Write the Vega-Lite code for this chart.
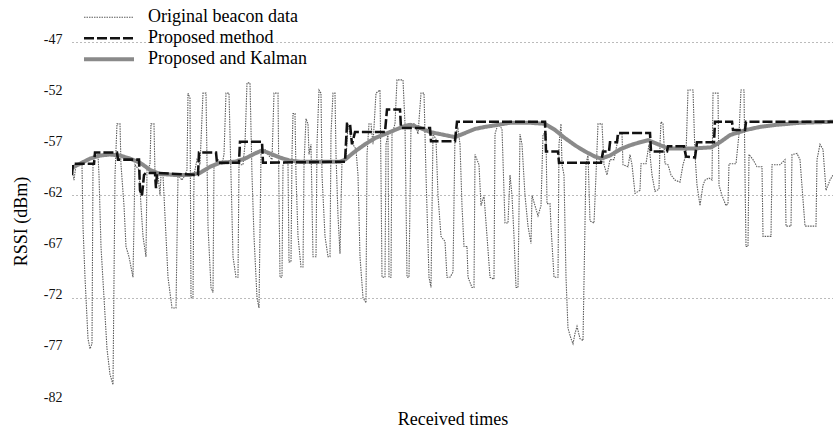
{
  "$schema": "https://vega.github.io/schema/vega-lite/v6.json",
  "width": 761,
  "height": 358,
  "autosize": {"type": "none"},
  "padding": {"left": 72, "top": 42, "right": 0, "bottom": 34},
  "background": "white",
  "config": {"view": {"stroke": null}, "font": "Liberation Serif"},
  "datasets": {
    "rows": [
      {"s":"o","t":0,"v":-59.5},{"s":"o","t":2,"v":-60.5},{"s":"o","t":4,"v":-59},{"s":"o","t":8,"v":-58.9},{"s":"o","t":10,"v":-59},{"s":"o","t":11,"v":-65},{"s":"o","t":13,"v":-70},{"s":"o","t":16,"v":-76},{"s":"o","t":18,"v":-77},{"s":"o","t":20,"v":-76.5},
      {"s":"o","t":21,"v":-59},{"s":"o","t":23,"v":-57.9},{"s":"o","t":26,"v":-58},{"s":"o","t":27,"v":-60},{"s":"o","t":29,"v":-67},{"s":"o","t":32,"v":-72},{"s":"o","t":35,"v":-77},{"s":"o","t":38,"v":-79.5},{"s":"o","t":41,"v":-80.5},{"s":"o","t":43,"v":-60},
      {"s":"o","t":45,"v":-55},{"s":"o","t":48,"v":-55},{"s":"o","t":49,"v":-59},{"s":"o","t":52,"v":-63},{"s":"o","t":54,"v":-67},{"s":"o","t":57,"v":-68},{"s":"o","t":61,"v":-70},{"s":"o","t":63,"v":-59},{"s":"o","t":67,"v":-59.5},{"s":"o","t":69,"v":-63},
      {"s":"o","t":71,"v":-66},{"s":"o","t":74,"v":-68},{"s":"o","t":75,"v":-59.5},{"s":"o","t":78,"v":-59},{"s":"o","t":79,"v":-55},{"s":"o","t":82,"v":-55},{"s":"o","t":83,"v":-60},{"s":"o","t":86,"v":-60},{"s":"o","t":88,"v":-62},{"s":"o","t":89,"v":-60},
      {"s":"o","t":91,"v":-60},{"s":"o","t":93,"v":-64},{"s":"o","t":96,"v":-70},{"s":"o","t":100,"v":-73},{"s":"o","t":104,"v":-73},{"s":"o","t":106,"v":-60},{"s":"o","t":110,"v":-60.5},{"s":"o","t":113,"v":-60},{"s":"o","t":115,"v":-59.5},{"s":"o","t":116,"v":-52},
      {"s":"o","t":118,"v":-52.5},{"s":"o","t":119,"v":-72},{"s":"o","t":121,"v":-72},{"s":"o","t":122,"v":-60},{"s":"o","t":125,"v":-58.5},{"s":"o","t":128,"v":-59},{"s":"o","t":131,"v":-52},{"s":"o","t":134,"v":-52},{"s":"o","t":136,"v":-65},{"s":"o","t":139,"v":-71},
      {"s":"o","t":141,"v":-71.5},{"s":"o","t":142,"v":-59},{"s":"o","t":146,"v":-58.5},{"s":"o","t":150,"v":-59},{"s":"o","t":152,"v":-58},{"s":"o","t":154,"v":-52},{"s":"o","t":157,"v":-52},{"s":"o","t":159,"v":-60},{"s":"o","t":161,"v":-68},{"s":"o","t":164,"v":-70},
      {"s":"o","t":166,"v":-70},{"s":"o","t":167,"v":-59},{"s":"o","t":171,"v":-59},{"s":"o","t":173,"v":-57},{"s":"o","t":175,"v":-51},{"s":"o","t":178,"v":-51},{"s":"o","t":180,"v":-60},{"s":"o","t":182,"v":-66},{"s":"o","t":185,"v":-72},{"s":"o","t":187,"v":-73},
      {"s":"o","t":189,"v":-58},{"s":"o","t":193,"v":-57.5},{"s":"o","t":196,"v":-58},{"s":"o","t":200,"v":-58.5},{"s":"o","t":202,"v":-52},{"s":"o","t":206,"v":-52},{"s":"o","t":207,"v":-62},{"s":"o","t":208,"v":-70},{"s":"o","t":210,"v":-70},{"s":"o","t":211,"v":-59},
      {"s":"o","t":214,"v":-58.5},{"s":"o","t":216,"v":-59},{"s":"o","t":217,"v":-68.5},{"s":"o","t":219,"v":-68.5},{"s":"o","t":220,"v":-58},{"s":"o","t":221,"v":-54},{"s":"o","t":223,"v":-54},{"s":"o","t":224,"v":-60},{"s":"o","t":226,"v":-66},{"s":"o","t":229,"v":-69},
      {"s":"o","t":231,"v":-69},{"s":"o","t":232,"v":-59},{"s":"o","t":234,"v":-54.5},{"s":"o","t":236,"v":-55},{"s":"o","t":237,"v":-58},{"s":"o","t":239,"v":-57},{"s":"o","t":241,"v":-68},{"s":"o","t":244,"v":-68},{"s":"o","t":245,"v":-57},{"s":"o","t":247,"v":-51.7},
      {"s":"o","t":249,"v":-52},{"s":"o","t":250,"v":-60},{"s":"o","t":253,"v":-66},{"s":"o","t":256,"v":-68},{"s":"o","t":258,"v":-68},{"s":"o","t":259,"v":-56},{"s":"o","t":261,"v":-52},{"s":"o","t":263,"v":-52},{"s":"o","t":264,"v":-58},{"s":"o","t":266,"v":-64},
      {"s":"o","t":268,"v":-67.7},{"s":"o","t":270,"v":-58.5},{"s":"o","t":274,"v":-58.5},{"s":"o","t":276,"v":-55},{"s":"o","t":278,"v":-56},{"s":"o","t":281,"v":-57},{"s":"o","t":284,"v":-57.5},{"s":"o","t":286,"v":-60},{"s":"o","t":288,"v":-68},{"s":"o","t":291,"v":-72},
      {"s":"o","t":294,"v":-72.5},{"s":"o","t":295,"v":-58},{"s":"o","t":297,"v":-55},{"s":"o","t":299,"v":-55},{"s":"o","t":301,"v":-57},{"s":"o","t":304,"v":-52},{"s":"o","t":308,"v":-51.7},{"s":"o","t":309,"v":-60},{"s":"o","t":310,"v":-70},{"s":"o","t":313,"v":-70},
      {"s":"o","t":314,"v":-57},{"s":"o","t":316,"v":-56},{"s":"o","t":317,"v":-70},{"s":"o","t":319,"v":-70},{"s":"o","t":320,"v":-56},{"s":"o","t":323,"v":-55},{"s":"o","t":325,"v":-50.7},{"s":"o","t":331,"v":-50.7},{"s":"o","t":333,"v":-55},{"s":"o","t":335,"v":-70},
      {"s":"o","t":337,"v":-70},{"s":"o","t":339,"v":-55},{"s":"o","t":343,"v":-55},{"s":"o","t":346,"v":-56},{"s":"o","t":349,"v":-52},{"s":"o","t":352,"v":-52},{"s":"o","t":354,"v":-60},{"s":"o","t":357,"v":-70},{"s":"o","t":359,"v":-71},{"s":"o","t":361,"v":-56},
      {"s":"o","t":364,"v":-56.5},{"s":"o","t":366,"v":-62},{"s":"o","t":369,"v":-66},{"s":"o","t":373,"v":-66.5},{"s":"o","t":375,"v":-70},{"s":"o","t":378,"v":-70},{"s":"o","t":381,"v":-69.5},{"s":"o","t":383,"v":-56},{"s":"o","t":386,"v":-55.5},{"s":"o","t":388,"v":-57},
      {"s":"o","t":390,"v":-63},{"s":"o","t":392,"v":-67},{"s":"o","t":395,"v":-67},{"s":"o","t":396,"v":-70},{"s":"o","t":400,"v":-71},{"s":"o","t":402,"v":-71},{"s":"o","t":403,"v":-58},{"s":"o","t":407,"v":-59},{"s":"o","t":409,"v":-63},{"s":"o","t":412,"v":-62},
      {"s":"o","t":415,"v":-66},{"s":"o","t":418,"v":-70},{"s":"o","t":422,"v":-70.2},{"s":"o","t":423,"v":-56},{"s":"o","t":426,"v":-55},{"s":"o","t":430,"v":-55.5},{"s":"o","t":433,"v":-64.7},{"s":"o","t":436,"v":-64.7},{"s":"o","t":438,"v":-60},{"s":"o","t":440,"v":-62},
      {"s":"o","t":442,"v":-66},{"s":"o","t":444,"v":-71},{"s":"o","t":446,"v":-71},{"s":"o","t":448,"v":-56},{"s":"o","t":450,"v":-57},{"s":"o","t":453,"v":-62},{"s":"o","t":456,"v":-65},{"s":"o","t":459,"v":-66.7},{"s":"o","t":460,"v":-62},{"s":"o","t":463,"v":-63},
      {"s":"o","t":466,"v":-64},{"s":"o","t":469,"v":-63},{"s":"o","t":471,"v":-56},{"s":"o","t":474,"v":-56},{"s":"o","t":475,"v":-62.8},{"s":"o","t":478,"v":-62.8},{"s":"o","t":479,"v":-65},{"s":"o","t":482,"v":-70},{"s":"o","t":486,"v":-70},{"s":"o","t":487,"v":-57},
      {"s":"o","t":489,"v":-55},{"s":"o","t":490,"v":-59},{"s":"o","t":492,"v":-60},{"s":"o","t":494,"v":-70},{"s":"o","t":496,"v":-75},{"s":"o","t":499,"v":-76},{"s":"o","t":501,"v":-76.5},{"s":"o","t":503,"v":-75.5},{"s":"o","t":505,"v":-74.8},{"s":"o","t":508,"v":-76},
      {"s":"o","t":511,"v":-76.2},{"s":"o","t":514,"v":-59},{"s":"o","t":516,"v":-58},{"s":"o","t":518,"v":-64.5},{"s":"o","t":522,"v":-64.7},{"s":"o","t":524,"v":-60},{"s":"o","t":526,"v":-55},{"s":"o","t":530,"v":-55},{"s":"o","t":532,"v":-59},{"s":"o","t":535,"v":-60},
      {"s":"o","t":538,"v":-58.5},{"s":"o","t":542,"v":-58.5},{"s":"o","t":545,"v":-57},{"s":"o","t":547,"v":-56},{"s":"o","t":550,"v":-56},{"s":"o","t":551,"v":-59},{"s":"o","t":556,"v":-59.2},{"s":"o","t":558,"v":-58},{"s":"o","t":560,"v":-59},{"s":"o","t":563,"v":-61.8},
      {"s":"o","t":568,"v":-61.5},{"s":"o","t":569,"v":-58.9},{"s":"o","t":574,"v":-58.9},{"s":"o","t":577,"v":-57},{"s":"o","t":580,"v":-60},{"s":"o","t":583,"v":-61.6},{"s":"o","t":587,"v":-61.4},{"s":"o","t":588,"v":-57},{"s":"o","t":589,"v":-54.8},{"s":"o","t":591,"v":-55},
      {"s":"o","t":593,"v":-58.9},{"s":"o","t":596,"v":-59},{"s":"o","t":599,"v":-60},{"s":"o","t":603,"v":-60.5},{"s":"o","t":608,"v":-60.7},{"s":"o","t":611,"v":-59},{"s":"o","t":614,"v":-58},{"s":"o","t":616,"v":-51.7},{"s":"o","t":621,"v":-51.7},{"s":"o","t":623,"v":-58},
      {"s":"o","t":625,"v":-61},{"s":"o","t":628,"v":-63},{"s":"o","t":631,"v":-61},{"s":"o","t":633,"v":-60.5},{"s":"o","t":637,"v":-60.3},{"s":"o","t":640,"v":-60.5},{"s":"o","t":641,"v":-52},{"s":"o","t":646,"v":-52},{"s":"o","t":647,"v":-61},{"s":"o","t":650,"v":-62},
      {"s":"o","t":654,"v":-63},{"s":"o","t":656,"v":-62.8},{"s":"o","t":657,"v":-58.9},{"s":"o","t":664,"v":-58.9},{"s":"o","t":667,"v":-56},{"s":"o","t":669,"v":-51.7},{"s":"o","t":672,"v":-51.7},{"s":"o","t":673,"v":-60},{"s":"o","t":674,"v":-67},{"s":"o","t":676,"v":-67},
      {"s":"o","t":677,"v":-58},{"s":"o","t":681,"v":-58.5},{"s":"o","t":685,"v":-59.2},{"s":"o","t":690,"v":-59.2},{"s":"o","t":691,"v":-66},{"s":"o","t":699,"v":-66},{"s":"o","t":700,"v":-59},{"s":"o","t":704,"v":-59},{"s":"o","t":708,"v":-59},{"s":"o","t":713,"v":-58.5},
      {"s":"o","t":714,"v":-65},{"s":"o","t":719,"v":-65},{"s":"o","t":720,"v":-58},{"s":"o","t":725,"v":-57.9},{"s":"o","t":728,"v":-58.5},{"s":"o","t":733,"v":-65},{"s":"o","t":738,"v":-65},{"s":"o","t":744,"v":-65},{"s":"o","t":745,"v":-58.5},{"s":"o","t":748,"v":-57},
      {"s":"o","t":751,"v":-57.5},{"s":"o","t":754,"v":-61.5},{"s":"o","t":758,"v":-60.5},{"s":"o","t":761,"v":-60},

      {"s":"k","t":0,"v":-59.3},{"s":"k","t":8,"v":-58.9},{"s":"k","t":18,"v":-58.4},{"s":"k","t":28,"v":-58.1},{"s":"k","t":38,"v":-58.0},{"s":"k","t":48,"v":-58.1},{"s":"k","t":58,"v":-58.4},{"s":"k","t":68,"v":-58.8},{"s":"k","t":78,"v":-59.5},{"s":"k","t":88,"v":-59.9},
      {"s":"k","t":103,"v":-60.0},{"s":"k","t":118,"v":-60.0},{"s":"k","t":128,"v":-59.8},{"s":"k","t":138,"v":-59.2},{"s":"k","t":148,"v":-58.8},{"s":"k","t":163,"v":-58.7},{"s":"k","t":173,"v":-58.4},{"s":"k","t":183,"v":-57.9},{"s":"k","t":190,"v":-57.6},{"s":"k","t":198,"v":-57.9},
      {"s":"k","t":208,"v":-58.3},{"s":"k","t":218,"v":-58.6},{"s":"k","t":228,"v":-58.7},{"s":"k","t":248,"v":-58.7},{"s":"k","t":268,"v":-58.7},{"s":"k","t":273,"v":-58.5},{"s":"k","t":283,"v":-57.7},{"s":"k","t":293,"v":-57.0},{"s":"k","t":303,"v":-56.4},{"s":"k","t":313,"v":-56.0},
      {"s":"k","t":323,"v":-55.6},{"s":"k","t":333,"v":-55.2},{"s":"k","t":338,"v":-55.1},{"s":"k","t":348,"v":-55.4},{"s":"k","t":358,"v":-55.8},{"s":"k","t":368,"v":-56.0},{"s":"k","t":383,"v":-56.3},{"s":"k","t":393,"v":-55.9},{"s":"k","t":403,"v":-55.5},{"s":"k","t":413,"v":-55.3},
      {"s":"k","t":426,"v":-55.1},{"s":"k","t":438,"v":-54.9},{"s":"k","t":458,"v":-54.9},{"s":"k","t":473,"v":-55.0},{"s":"k","t":483,"v":-55.6},{"s":"k","t":493,"v":-56.4},{"s":"k","t":503,"v":-57.1},{"s":"k","t":513,"v":-57.7},{"s":"k","t":523,"v":-58.2},{"s":"k","t":529,"v":-58.4},
      {"s":"k","t":538,"v":-58.1},{"s":"k","t":548,"v":-57.5},{"s":"k","t":558,"v":-57.1},{"s":"k","t":568,"v":-56.8},{"s":"k","t":576,"v":-56.6},{"s":"k","t":586,"v":-57.0},{"s":"k","t":596,"v":-57.4},{"s":"k","t":608,"v":-57.4},{"s":"k","t":623,"v":-57.4},{"s":"k","t":639,"v":-57.3},
      {"s":"k","t":648,"v":-56.8},{"s":"k","t":658,"v":-56.1},{"s":"k","t":674,"v":-55.6},{"s":"k","t":688,"v":-55.3},{"s":"k","t":704,"v":-55.1},{"s":"k","t":728,"v":-54.9},{"s":"k","t":761,"v":-54.8},

      {"s":"p","t":0,"v":-60},{"s":"p","t":1,"v":-58.9},{"s":"p","t":22,"v":-58.9},{"s":"p","t":23,"v":-57.8},{"s":"p","t":45,"v":-57.8},{"s":"p","t":46,"v":-58.5},{"s":"p","t":67,"v":-58.5},{"s":"p","t":68,"v":-61.5},{"s":"p","t":70,"v":-62},{"s":"p","t":72,"v":-60},
      {"s":"p","t":74,"v":-59.8},{"s":"p","t":83,"v":-59.8},{"s":"p","t":84,"v":-61.3},{"s":"p","t":85,"v":-59.8},{"s":"p","t":126,"v":-60},{"s":"p","t":127,"v":-57.8},{"s":"p","t":144,"v":-57.8},{"s":"p","t":145,"v":-58.8},{"s":"p","t":167,"v":-58.8},{"s":"p","t":168,"v":-56.75},
      {"s":"p","t":190,"v":-56.75},{"s":"p","t":191,"v":-58.8},{"s":"p","t":273,"v":-58.7},{"s":"p","t":275,"v":-55},{"s":"p","t":278,"v":-55},{"s":"p","t":280,"v":-57},{"s":"p","t":283,"v":-55.8},{"s":"p","t":313,"v":-55.8},{"s":"p","t":315,"v":-53.6},{"s":"p","t":328,"v":-53.6},
      {"s":"p","t":329,"v":-55.4},{"s":"p","t":358,"v":-55.4},{"s":"p","t":359,"v":-56.7},{"s":"p","t":383,"v":-56.7},{"s":"p","t":385,"v":-54.8},{"s":"p","t":473,"v":-54.8},{"s":"p","t":474,"v":-57.7},{"s":"p","t":486,"v":-57.7},{"s":"p","t":487,"v":-58.8},{"s":"p","t":529,"v":-58.8},
      {"s":"p","t":531,"v":-57.7},{"s":"p","t":537,"v":-57.7},{"s":"p","t":538,"v":-56.8},{"s":"p","t":545,"v":-56.8},{"s":"p","t":546,"v":-55.9},{"s":"p","t":578,"v":-55.9},{"s":"p","t":579,"v":-57.7},{"s":"p","t":595,"v":-57.7},{"s":"p","t":596,"v":-57.2},{"s":"p","t":612,"v":-57.2},
      {"s":"p","t":614,"v":-58.2},{"s":"p","t":623,"v":-58.3},{"s":"p","t":625,"v":-56.8},{"s":"p","t":642,"v":-56.8},{"s":"p","t":643,"v":-54.8},{"s":"p","t":660,"v":-54.8},{"s":"p","t":661,"v":-55.6},{"s":"p","t":673,"v":-55.6},{"s":"p","t":674,"v":-54.8},{"s":"p","t":761,"v":-54.8}
    ]
  },
  "data": {"name": "rows"},
  "mark": {"type": "line", "interpolate": "linear", "clip": true},
  "encoding": {
    "x": {
      "field": "t", "type": "quantitative",
      "scale": {"domain": [0, 761], "nice": false, "zero": false},
      "axis": {"title": "Received times", "labels": false, "ticks": false, "domain": false, "grid": false,
        "titleFont": "Liberation Serif", "titleFontSize": 18, "titleFontWeight": "normal", "titleColor": "#000", "titlePadding": 10}
    },
    "y": {
      "field": "v", "type": "quantitative",
      "scale": {"domain": [-82, -47], "nice": false, "zero": false},
      "axis": {"title": "RSSI (dBm)", "values": [-82, -77, -72, -67, -62, -57, -52, -47], "ticks": false, "domain": false,
        "labelExpr": "'' + datum.value",
        "labelFont": "Liberation Serif", "labelFontSize": 14, "labelColor": "#111", "labelPadding": 10, "labelOffset": -3,
        "gridColor": "#777", "gridDash": [1, 3], "gridWidth": 1,
        "gridOpacity": {"condition": {"test": "datum.value == -47 || datum.value == -62 || datum.value == -72", "value": 1}, "value": 0},
        "titleFont": "Liberation Serif", "titleFontSize": 18, "titleFontWeight": "normal", "titleColor": "#000", "titlePadding": 13}
    },
    "color": {
      "field": "s", "type": "nominal",
      "scale": {"domain": ["o", "p", "k"], "range": ["#5c5c5c", "#111111", "#8a8a8a"]},
      "legend": {"title": null, "orient": "none", "legendX": 10, "legendY": -35, "padding": 0,
        "symbolType": "stroke", "symbolSize": 2500, "clipHeight": 20.5, "rowPadding": 0,
        "labelExpr": "datum.value == 'o' ? 'Original beacon data' : datum.value == 'p' ? 'Proposed method' : 'Proposed and Kalman'",
        "labelFont": "Liberation Serif", "labelFontSize": 18, "labelColor": "#000", "labelOffset": 12}
    },
    "strokeDash": {
      "field": "s", "type": "nominal",
      "scale": {"domain": ["o", "p", "k"], "range": [[1.5, 1], [10, 3], [1, 0]]}
    },
    "strokeWidth": {
      "field": "s", "type": "nominal",
      "scale": {"domain": ["o", "p", "k"], "range": [1.1, 4, 4.5]}
    }
  }
}
